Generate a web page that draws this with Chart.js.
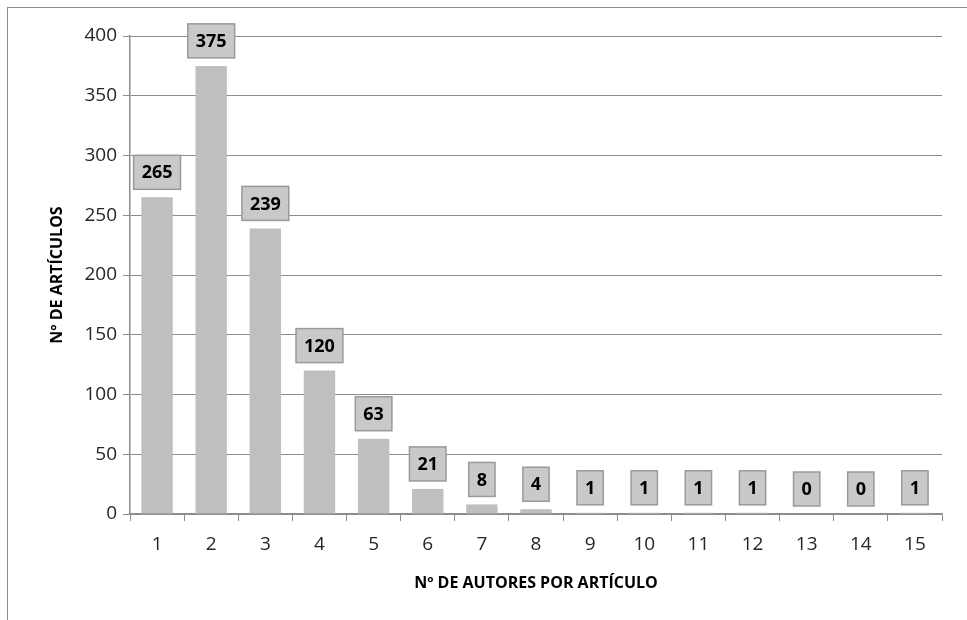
<!DOCTYPE html>
<html>
<head>
<meta charset="utf-8">
<script src="https://cdn.jsdelivr.net/npm/chart.js@4.4.1/dist/chart.umd.min.js"></script>
<style>
  html, body { margin: 0; padding: 0; background: #fff; }
  #wrap { position: relative; width: 967px; height: 620px; overflow: hidden; }
  #frame { position: absolute; left: 7px; top: 7px; width: 1000px; height: 700px; border: 1px solid #8c8c8c; }
  canvas { position: absolute; left: 0; top: 0; }
</style>
</head>
<body>
<div id="wrap">
  <div id="frame"></div>
  <canvas id="autores" width="967" height="620"></canvas>
</div>
<script>
// datos
let autores = ['1', '2', '3', '4', '5', '6', '7', '8', '9', '10', '11', '12', '13', '14', '15'];
let articulos = [265, 375, 239, 120, 63, 21, 8, 4, 1, 1, 1, 1, 0, 0, 1];
let yTicks = [0, 50, 100, 150, 200, 250, 300, 350, 400];

let fuente = "'Open Sans', 'Liberation Sans', sans-serif";

// etiquetas con caja encima de cada barra
let cajas = {
    id: 'cajas',
    afterDatasetsDraw(chart) {
        let ctx = chart.ctx;
        let meta = chart.getDatasetMeta(0);
        ctx.save();
        ctx.font = 'bold 18px ' + fuente;
        ctx.textAlign = 'center';
        ctx.textBaseline = 'middle';
        meta.data.forEach(function(bar, i) {
            let txt = String(articulos[i]);
            let w = ctx.measureText(txt).width + 16;
            let h = 34;
            let bottom = bar.y - 8;
            let left = bar.x - w / 2;
            ctx.fillStyle = '#c9c9c9';
            ctx.fillRect(left, bottom - h, w, h);
            ctx.strokeStyle = '#9a9a9a';
            ctx.lineWidth = 1.5;
            ctx.strokeRect(left, bottom - h, w, h);
            ctx.fillStyle = '#000';
            ctx.fillText(txt, bar.x, bottom - h / 2 + 1);
        });
        ctx.restore();
    }
};

var ctx = document.getElementById('autores');

var grafico = new Chart(ctx, {
    type: 'bar',
    data: {
        labels: autores,
        datasets: [{
            label: 'Artículos',
            data: articulos,
            backgroundColor: '#bfbfbf',
            borderWidth: 0,
            barPercentage: 0.58,
            categoryPercentage: 1
        }]
    },
    options: {
        responsive: false,
        animation: false,
        devicePixelRatio: 1,
        layout: {
            padding: { left: 40, right: 25, top: 36, bottom: 23 }
        },
        plugins: {
            legend: { display: false },
            tooltip: { enabled: false }
        },
        scales: {
            x: {
                grid: {
                    offset: true,
                    drawOnChartArea: false,
                    color: '#8c8c8c',
                    tickLength: 7
                },
                border: { color: '#8c8c8c', width: 1.5 },
                ticks: {
                    color: '#262626',
                    font: { family: fuente, size: 19 },
                    padding: 12,
                    maxRotation: 0
                },
                title: {
                    display: true,
                    text: 'Nº DE AUTORES POR ARTÍCULO',
                    color: '#000',
                    font: { family: fuente, size: 16, weight: 'bold' },
                    padding: { top: 6, bottom: 4 }
                }
            },
            y: {
                min: 0,
                max: 400,
                afterFit: function(scale) {
                    scale.width = 90;
                },
                afterBuildTicks: function(scale) {
                    scale.ticks = yTicks.map(function(v) { return { value: v }; });
                },
                grid: {
                    color: '#8c8c8c',
                    tickLength: 7
                },
                border: { color: '#8c8c8c', width: 1.5 },
                ticks: {
                    color: '#262626',
                    font: { family: fuente, size: 19 },
                    padding: 6
                },
                title: {
                    display: true,
                    text: 'Nº DE ARTÍCULOS',
                    color: '#000',
                    font: { family: fuente, size: 16, weight: 'bold' },
                    padding: { top: 8, bottom: 8 }
                }
            }
        }
    },
    plugins: [cajas]
});
</script>
</body>
</html>
